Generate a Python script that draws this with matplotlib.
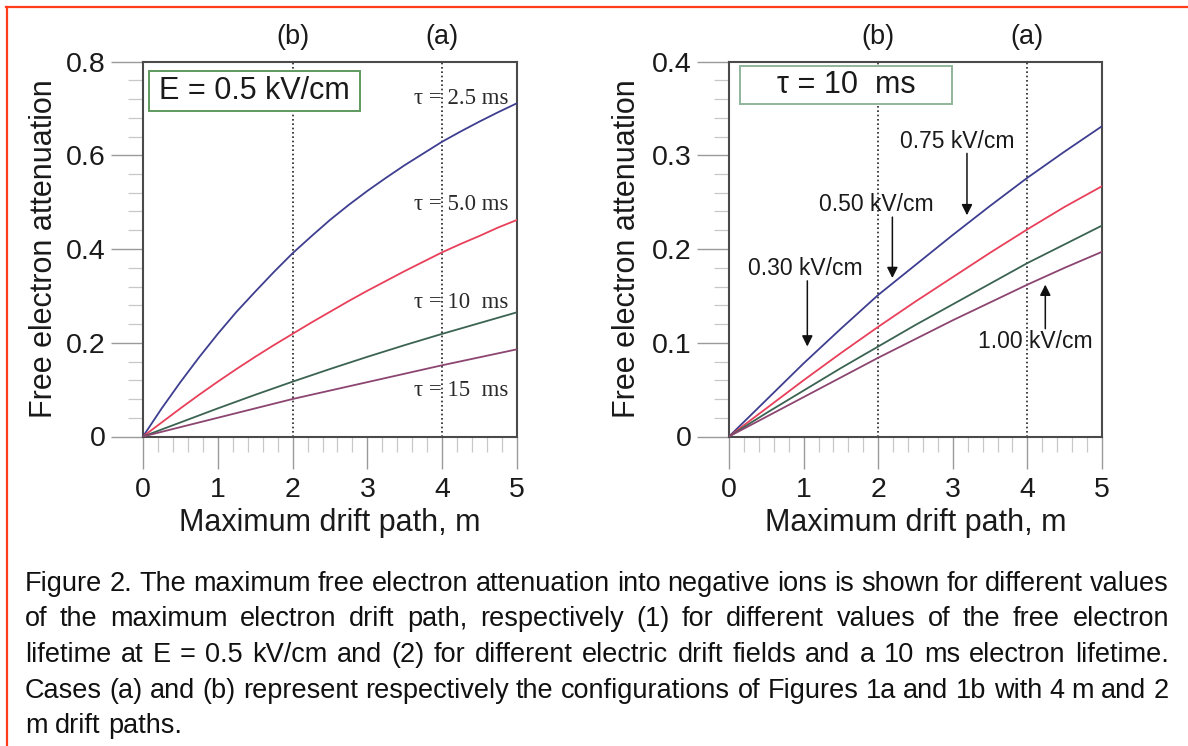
import matplotlib
matplotlib.use("Agg")
import matplotlib.pyplot as plt
from matplotlib.lines import Line2D
from matplotlib.patches import Rectangle
from matplotlib.ticker import MultipleLocator, FuncFormatter

plt.rcParams['font.family'] = ['Liberation Sans', 'DejaVu Sans']

W, H = 1188, 746

# drift path (m)
drift_path = [0, 0.5, 1.0, 1.5, 2.0, 2.5, 3.0, 3.5, 4.0, 4.5, 5.0]
drift_path_fine = [0, 0.25, 0.5, 0.75, 1.0, 1.25, 1.5, 1.75, 2.0, 2.25, 2.5,
                   2.75, 3.0, 3.25, 3.5, 3.75, 4.0, 4.25, 4.5, 4.75, 5.0]

# left panel: E = 0.5 kV/cm, different lifetimes
tau_labels = ["τ = 2.5 ms", "τ = 5.0 ms", "τ = 10  ms", "τ = 15  ms"]
att_tau_2_5 = [0, 0.060, 0.116, 0.169, 0.219, 0.266, 0.309, 0.351, 0.391, 0.427, 0.462,
               0.494, 0.524, 0.552, 0.579, 0.604, 0.629, 0.651, 0.672, 0.692, 0.711]
att_tau_5 = [0, 0.030, 0.060, 0.089, 0.117, 0.144, 0.170, 0.195, 0.219, 0.243, 0.266,
             0.289, 0.311, 0.332, 0.353, 0.373, 0.393, 0.411, 0.428, 0.446, 0.462]
att_tau_10 = [0, 0.030, 0.060, 0.089, 0.117, 0.144, 0.170, 0.195, 0.219, 0.242, 0.265]
att_tau_15 = [0, 0.020, 0.040, 0.060, 0.080, 0.098, 0.116, 0.134, 0.152, 0.169, 0.186]
tau_label_y = [0.720, 0.496, 0.286, 0.098]

# right panel: tau = 10 ms, different drift fields (curves top to bottom)
att_field_a = [0, 0.039, 0.078, 0.115, 0.151, 0.183, 0.215, 0.246, 0.276, 0.304, 0.331]
att_field_b = [0, 0.030, 0.060, 0.089, 0.117, 0.144, 0.170, 0.196, 0.221, 0.245, 0.267]
att_field_c = [0, 0.025, 0.049, 0.073, 0.096, 0.119, 0.141, 0.163, 0.185, 0.205, 0.225]
att_field_d = [0, 0.021, 0.042, 0.063, 0.084, 0.104, 0.124, 0.143, 0.162, 0.180, 0.197]

case_x = [2, 4]
case_labels = ["(b)", "(a)"]

caption = [
    "Figure 2. The maximum free electron attenuation into negative ions is shown for different values",
    "of the maximum electron drift path, respectively (1) for different values of the free electron",
    "lifetime at E = 0.5 kV/cm and (2) for different electric drift fields and a 10 ms electron lifetime.",
    "Cases (a) and (b) represent respectively the configurations of Figures 1a and 1b with 4 m and 2",
    "m drift paths.",
]

colors = ['#3e3e90', '#e8405a', '#3b6352', '#8c4570']

fig = plt.figure(figsize=(W / 100, H / 100), dpi=100)

bottom = 1 - 436.5 / H
height = 375 / H
ax1 = fig.add_axes([143 / W, bottom, 374 / W, height])
ax2 = fig.add_axes([729 / W, bottom, 373 / W, height])


def style_axes(ax, ymax, ymajor, yminor):
    ax.set_xlim(0, 5)
    ax.set_ylim(0, ymax)
    ax.xaxis.set_major_locator(MultipleLocator(1))
    ax.xaxis.set_minor_locator(MultipleLocator(0.2))
    ax.yaxis.set_major_locator(MultipleLocator(ymajor))
    ax.yaxis.set_minor_locator(MultipleLocator(yminor))
    ax.yaxis.set_major_formatter(FuncFormatter(lambda v, p: '0' if abs(v) < 1e-9 else f'{v:g}'))
    ax.tick_params(which='major', direction='out', length=23, width=1.0, color='#9a9a9a',
                   labelsize=20.5, labelcolor='#1a1a1a')
    ax.tick_params(axis='x', which='major', pad=6)
    ax.tick_params(axis='y', which='major', pad=4)
    ax.tick_params(which='minor', direction='out', length=11, width=0.9, color='#c8c8c8')
    for s in ax.spines.values():
        s.set_color('#4a4a4a')
        s.set_linewidth(1.5)
    for x, lab in zip(case_x, case_labels):
        ax.axvline(x, color='#222222', lw=1.2, ls=(0, (1, 1.6)), zorder=1)
        ax.text(x, 1.064, lab, transform=ax.get_xaxis_transform(), ha='center', va='center',
                fontsize=19.5, color='#1a1a1a')


style_axes(ax1, 0.8, 0.2, 0.04)
style_axes(ax2, 0.4, 0.1, 0.02)

# left panel curves
ax1.plot(drift_path_fine, att_tau_2_5, color=colors[0], lw=1.3, zorder=3)
ax1.plot(drift_path_fine, att_tau_5, color=colors[1], lw=1.3, zorder=3)
ax1.plot(drift_path, att_tau_10, color=colors[2], lw=1.3, zorder=3)
ax1.plot(drift_path, att_tau_15, color=colors[3], lw=1.3, zorder=3)
for lab, y in zip(tau_labels, tau_label_y):
    ax1.text(4.88, y, lab, ha='right', va='center', fontsize=16.5, color='#2a2a2a',
             family=['Liberation Serif', 'DejaVu Serif'], zorder=2)

ax1.add_patch(Rectangle((0.016, 0.869), 0.564, 0.105, transform=ax1.transAxes,
                        facecolor='white', edgecolor='#5f9a5f', lw=1.4, zorder=4))
ax1.text(0.298, 0.921, "E = 0.5 kV/cm", transform=ax1.transAxes, ha='center', va='center',
         fontsize=22, color='#1a1a1a', zorder=5)

# right panel curves
for ys, c in zip([att_field_a, att_field_b, att_field_c, att_field_d], colors):
    ax2.plot(drift_path, ys, color=c, lw=1.3, zorder=3)

ax2.add_patch(Rectangle((0.030, 0.887), 0.567, 0.102, transform=ax2.transAxes,
                        facecolor='white', edgecolor='#8fb59a', lw=1.4, zorder=4))
ax2.text(0.3135, 0.938, "τ = 10  ms", transform=ax2.transAxes, ha='center', va='center',
         fontsize=22, color='#1a1a1a', zorder=5)

arrow = dict(arrowstyle='-|>', color='#111111', lw=1.1, mutation_scale=16, shrinkA=0, shrinkB=0)
ax2.text(3.06, 0.315, "0.75 kV/cm", ha='center', va='center', fontsize=16.5, color='#1a1a1a')
ax2.annotate("", xy=(3.19, 0.236), xytext=(3.19, 0.302), arrowprops=arrow)
ax2.text(1.98, 0.247, "0.50 kV/cm", ha='center', va='center', fontsize=16.5, color='#1a1a1a')
ax2.annotate("", xy=(2.19, 0.169), xytext=(2.19, 0.234), arrowprops=arrow)
ax2.text(1.02, 0.1795, "0.30 kV/cm", ha='center', va='center', fontsize=16.5, color='#1a1a1a')
ax2.annotate("", xy=(1.05, 0.096), xytext=(1.05, 0.166), arrowprops=arrow)
ax2.text(4.10, 0.101, "1.00 kV/cm", ha='center', va='center', fontsize=16.5, color='#1a1a1a', zorder=0)
ax2.annotate("", xy=(4.24, 0.162), xytext=(4.24, 0.115), arrowprops=arrow)

# axis labels
for xc in (44, 627):
    fig.text(xc / W, 1 - 249 / H, "Free electron attenuation", rotation=90, ha='center',
             va='center', fontsize=22, color='#1a1a1a')
for ax in (ax1, ax2):
    ax.text(2.5, 1 - (523 - 61.5) / 375, "Maximum drift path, m", transform=ax.get_xaxis_transform(),
            ha='center', va='center', fontsize=22, color='#1a1a1a', clip_on=False)

# red frame
fig.add_artist(Line2D([6 / W, 1], [1 - 7 / H, 1 - 7 / H], color='#ff3c1c', lw=1.6))
fig.add_artist(Line2D([7 / W, 7 / W], [0, 1 - 7 / H], color='#ff3c1c', lw=1.6))

# justified caption
renderer = fig.canvas.get_renderer()
x0, x1 = 25, 1169
cap_size = 19.5
space_px = 0.278 * cap_size * 100 / 72
for i, line in enumerate(caption):
    y = 1 - (584 + i * 35.5) / H
    words = line.split()
    arts = [fig.text(0, y, w, fontsize=cap_size, color='#111111', va='center', ha='left') for w in words]
    widths = [a.get_window_extent(renderer).width for a in arts]
    last = i == len(caption) - 1
    gap = space_px if last else (x1 - x0 - sum(widths)) / (len(words) - 1)
    x = x0
    for a, w in zip(arts, widths):
        a.set_x(x / W)
        x += w + gap

fig.savefig("out.png", dpi=100)
